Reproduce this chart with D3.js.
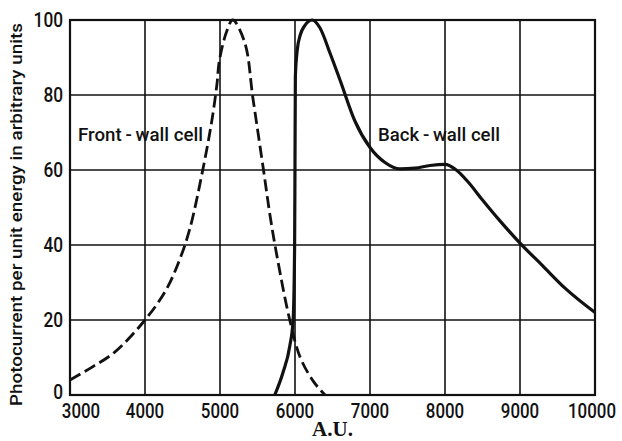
<!DOCTYPE html>
<head>
<meta charset="utf-8">
<style>
body { margin: 0; background: #fff; }
.tick-label { font-family: Roboto, "DejaVu Sans", sans-serif; font-weight: 500; font-size: 21px; fill: #111; }
.note { font-family: Roboto, "DejaVu Sans", sans-serif; font-weight: 500; font-size: 18px; fill: #111; }
.grid line { stroke: #111; stroke-width: 1.6px; }
</style>
</head>
<body>
<script src="https://cdn.jsdelivr.net/npm/d3@7"></script>
<script>

// front-wall cell (dashed curve)
var frontX = [3000, 3300, 3600, 4000, 4280, 4460, 4600, 4770, 4890, 4960, 4990, 5090, 5170, 5330, 5440, 5580, 5670, 5760, 5930, 6070, 6250, 6400];
var frontY = [4, 7.5, 11.5, 20, 28, 36, 44.5, 60, 73, 83, 89, 97, 100, 94, 79, 60, 47.5, 37, 20, 10, 3.5, 0];

// back-wall cell (solid curve)
var backX = [5730, 5840, 5930, 5975, 5995, 6000, 6005, 6030, 6070, 6130, 6230, 6330, 6470, 6600, 6800, 7000, 7200, 7400, 7600, 7800, 8000, 8150, 8300, 8500, 8730, 9000, 9300, 9600, 10000];
var backY = [0, 6, 13, 20, 40, 62, 85, 92, 96, 98.5, 100, 98, 91, 84, 73, 66, 62, 60.3, 60.5, 61.2, 61.5, 60, 57, 52, 46.5, 40.5, 34.5, 28.5, 22];

var xTicks = [3000, 4000, 5000, 6000, 7000, 8000, 9000, 10000];
var yTicks = [0, 20, 40, 60, 80, 100];

var margin = {top: 20, right: 27, bottom: 46, left: 70},
    width = 622 - margin.left - margin.right,
    height = 441 - margin.top - margin.bottom;

var x = d3.scaleLinear().domain([3000, 10000]).range([0, width]);
var y = d3.scaleLinear().domain([0, 100]).range([height, 0]);

var svg = d3.select("body").append("svg")
    .attr("width", 622)
    .attr("height", 441)
  .append("g")
    .attr("transform", "translate(" + margin.left + "," + margin.top + ")");

// grid
svg.append("g").attr("class", "grid")
  .selectAll("line.v").data(xTicks).enter().append("line")
    .attr("x1", function(d) { return x(d); })
    .attr("x2", function(d) { return x(d); })
    .attr("y1", 0).attr("y2", height);
svg.append("g").attr("class", "grid")
  .selectAll("line.h").data(yTicks).enter().append("line")
    .attr("x1", 0).attr("x2", width)
    .attr("y1", function(d) { return y(d); })
    .attr("y2", function(d) { return y(d); });

// frame
svg.append("rect")
    .attr("width", width).attr("height", height)
    .attr("fill", "none").attr("stroke", "#111").attr("stroke-width", 2.2);

// tick labels, squeezed to ~10px per digit like the original
svg.selectAll("text.xl").data(xTicks).enter().append("text")
    .attr("class", "tick-label")
    .attr("x", function(d) { return x(d) + (d === 3000 ? 11 : d === 10000 ? -3 : 0); })
    .attr("y", height + 23)
    .attr("text-anchor", "middle")
    .attr("textLength", function(d) { return String(d).length * 9.6; })
    .attr("lengthAdjust", "spacingAndGlyphs")
    .text(function(d) { return d; });

svg.selectAll("text.yl").data(yTicks).enter().append("text")
    .attr("class", "tick-label")
    .attr("x", -7)
    .attr("y", function(d) { return y(d) + (d === 0 ? 4 : 7); })
    .attr("text-anchor", "end")
    .attr("textLength", function(d) { return String(d).length * 9.8; })
    .attr("lengthAdjust", "spacingAndGlyphs")
    .text(function(d) { return d; });

// curves
var frontLine = d3.line()
    .x(function(d) { return x(d[0]); })
    .y(function(d) { return y(d[1]); })
    .curve(d3.curveCatmullRom.alpha(0.5));

var backLine = d3.line()
    .x(function(d) { return x(d[0]); })
    .y(function(d) { return y(d[1]); })
    .curve(d3.curveMonotoneX);

svg.append("path")
    .datum(d3.zip(frontX, frontY))
    .attr("fill", "none")
    .attr("stroke", "#111")
    .attr("stroke-width", 2.8)
    .attr("stroke-dasharray", "12,5")
    .attr("d", frontLine);

svg.append("path")
    .datum(d3.zip(backX, backY))
    .attr("fill", "none")
    .attr("stroke", "#111")
    .attr("stroke-width", 3.2)
    .attr("d", backLine);

// curve labels
svg.append("text").attr("class", "note")
    .attr("x", 8).attr("y", 121)
    .attr("textLength", 125).attr("lengthAdjust", "spacingAndGlyphs")
    .text("Front\u2009-\u2009wall cell");
svg.append("text").attr("class", "note")
    .attr("x", 308).attr("y", 121)
    .attr("textLength", 122).attr("lengthAdjust", "spacingAndGlyphs")
    .text("Back\u2009-\u2009wall cell");

// axis titles
svg.append("text")
    .attr("x", width / 2).attr("y", height + 41)
    .attr("text-anchor", "middle")
    .style("font-family", "\"Liberation Serif\", \"DejaVu Serif\", serif")
    .style("font-weight", "bold")
    .style("font-size", "21px")
    .style("fill", "#111")
    .text("A.U.");

svg.append("text")
    .attr("transform", "translate(" + (-48) + "," + (height / 2 + 7) + ") rotate(-90)")
    .attr("text-anchor", "middle")
    .attr("textLength", 383)
    .attr("lengthAdjust", "spacingAndGlyphs")
    .style("font-family", "Roboto, \"DejaVu Sans\", sans-serif")
    .style("font-weight", "500")
    .style("font-size", "17px")
    .style("fill", "#111")
    .text("Photocurrent per unit energy in arbitrary units");

</script>
</body>
